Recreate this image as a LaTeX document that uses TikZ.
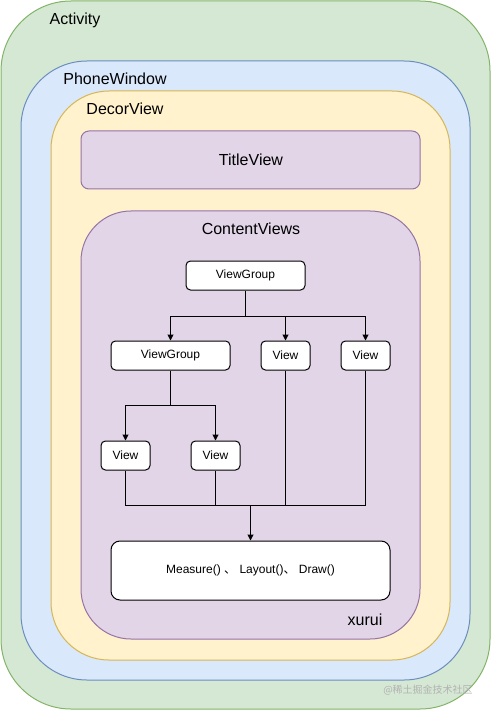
\documentclass[tikz,border=0pt]{standalone}
\usepackage{fontspec}
\setmainfont{Liberation Sans}
\newfontfamily\cjk{Noto Sans CJK SC}
\usetikzlibrary{arrows.meta}
\definecolor{gfill}{HTML}{D5E8D4}\definecolor{gline}{HTML}{82B366}
\definecolor{bfill}{HTML}{DAE8FC}\definecolor{bline}{HTML}{6C8EBF}
\definecolor{yfill}{HTML}{FFF2CC}\definecolor{yline}{HTML}{D6B656}
\definecolor{pfill}{HTML}{E1D5E7}\definecolor{pline}{HTML}{9673A6}
\tikzset{
  lbl/.style={font=\fontsize{16}{18}\selectfont, inner sep=0pt},
  vbox/.style={draw=black, fill=white, line width=1pt, rounded corners=4.5pt, font=\fontsize{12}{14}\selectfont, inner sep=0pt, minimum height=29pt},
  arr/.style={line width=1pt, -{Triangle[length=6pt,width=6pt]}},
  ln/.style={line width=1pt},
}
\begin{document}
\begin{tikzpicture}[x=1pt,y=-1pt]
\useasboundingbox (0,0) rectangle (492,711);
\filldraw[fill=gfill, draw=gline, line width=1pt, rounded corners=70pt] (1,1) rectangle (490,709);
\filldraw[fill=bfill, draw=bline, line width=1pt, rounded corners=66pt] (21,61) rectangle (470,680);
\filldraw[fill=yfill, draw=yline, line width=1pt, rounded corners=58pt] (51,91) rectangle (450,660);
\filldraw[fill=pfill, draw=pline, line width=1pt, rounded corners=8pt] (81,131) rectangle (420,189);
\filldraw[fill=pfill, draw=pline, line width=1pt, rounded corners=50pt] (81,211) rectangle (420,639);
\node[lbl] (tact) at (75,20) {Activity};
\node[lbl] (tpw) at (115,79) {PhoneWindow};
\node[lbl] (tdv) at (125,109) {DecorView};
\node[lbl] (ttv) at (251,160) {TitleView};
\node[lbl] (tcv) at (251,229) {ContentViews};
\node[lbl] (txu) at (365,620) {xurui};
\node[inner sep=0pt, text=black!30, font=\cjk\fontsize{10}{12}\selectfont] (wm) at (428,690) {@稀土掘金技术社区};

\node[vbox, minimum width=119pt] (vg1) at (245.5,275.5) {ViewGroup};
\node[vbox, minimum width=119pt] (vg2) at (170.5,355.5) {ViewGroup};
\node[vbox, minimum width=49pt] (v1) at (285.5,355.5) {View};
\node[vbox, minimum width=49pt] (v2) at (365.5,355.5) {View};
\node[vbox, minimum width=49pt] (v3) at (125.5,455.5) {View};
\node[vbox, minimum width=49pt] (v4) at (215.5,455.5) {View};
\node[vbox, minimum width=279pt, minimum height=59pt, rounded corners=9pt] (ms) at (250.5,570.5) {Measure() {\cjk 、} Layout(){\cjk 、} Draw()};

\coordinate (b1) at (245.5,316);
\coordinate (b2) at (170.5,405);
\coordinate (m) at (250.5,505);
\draw[ln] (vg1.south) -- (b1);
\draw[arr] (b1) -| (vg2.north);
\draw[arr] (b1) -| (v1.north);
\draw[arr] (b1) -| (v2.north);
\draw[ln] (vg2.south) -- (b2);
\draw[arr] (b2) -| (v3.north);
\draw[arr] (b2) -| (v4.north);
\draw[ln] (v3.south) |- (m);
\draw[ln] (v4.south) |- (m);
\draw[ln] (v1.south) |- (m);
\draw[ln] (v2.south) |- (m);
\draw[arr] (m) -- (ms.north);
\end{tikzpicture}
\end{document}
